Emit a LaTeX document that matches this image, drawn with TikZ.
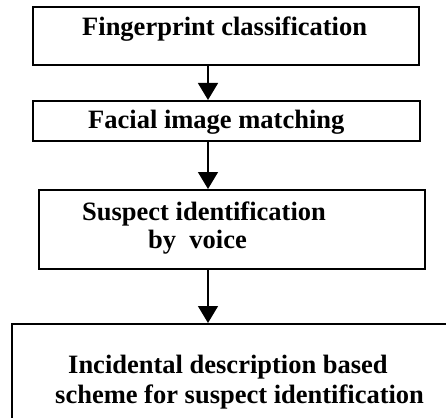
\documentclass[tikz,border=0pt]{standalone}
\usepackage{fontspec}
\setmainfont{Liberation Serif}
\usetikzlibrary{arrows.meta}

\tikzset{
	blockbox/.style={draw, line width=2pt, inner sep=0pt},
	blocktext/.style={anchor=base west, inner sep=0pt, font=\bfseries\fontsize{26.5}{30}\selectfont},
	flowarrow/.style={line width=1.4pt, -{Triangle[width=20pt,length=17pt]}}
}

\begin{document}
\begin{tikzpicture}[x=1pt, y=-1pt]
	\useasboundingbox (0,0) rectangle (446,417);
	\clip (0,0) rectangle (446,417);
	% Boxes:
	\node[blockbox, minimum width=386pt, minimum height=58pt] (finger) at (226,36) {};
	\node[blockbox, minimum width=387pt, minimum height=40pt] (face) at (226.5,121) {};
	\node[blockbox, minimum width=386pt, minimum height=79pt] (voice) at (232,229.5) {};
	\node[blockbox, minimum width=450pt, minimum height=110pt] (scheme) at (237,379) {};
	% Texts:
	\node[blocktext] (fingertext) at (82,36) {Fingerprint classification};
	\node[blocktext] (facetext) at (88,128) {Facial image matching};
	\node[blocktext] (voicetexta) at (82,220) {Suspect identification};
	\node[blocktext] (voicetextb) at (148,248) {by\ \ voice};
	\node[blocktext] (schemetexta) at (68,373) {Incidental description based};
	\node[blocktext] (schemetextb) at (55,403) {scheme for suspect identification};
	% Arrows:
	\coordinate (ax) at (208,0);
	\draw[flowarrow] (finger.south -| ax) -- (face.north -| ax);
	\draw[flowarrow] (face.south -| ax) -- (voice.north -| ax);
	\draw[flowarrow] (voice.south -| ax) -- (scheme.north -| ax);
\end{tikzpicture}
\end{document}
